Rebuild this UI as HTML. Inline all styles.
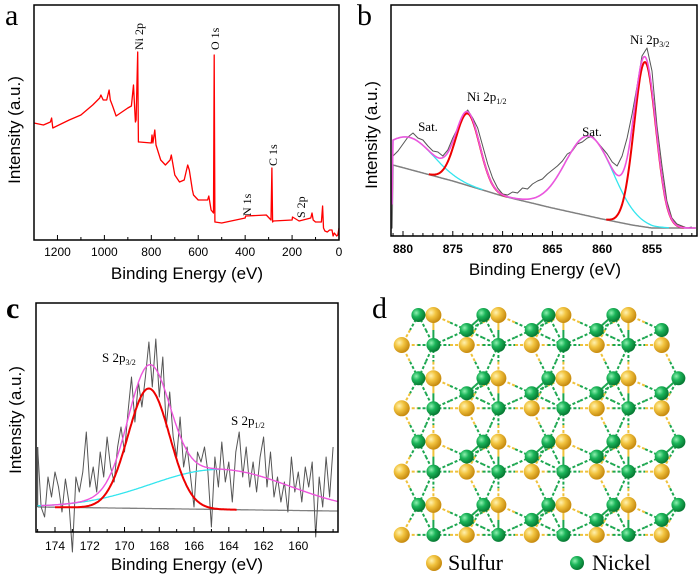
<!DOCTYPE html>
<html><head><meta charset="utf-8"><style>
html,body{margin:0;padding:0;background:#fff;}
svg{display:block;}
.t{font-family:"Liberation Sans",sans-serif;}
.s{font-family:"Liberation Serif",serif;}
</style></head><body>
<svg id="fig" width="700" height="575" viewBox="0 0 700 575" xmlns="http://www.w3.org/2000/svg">
<g id="pa"></g>
<g id="pb"></g>
<g id="pc"></g>
<g id="pd"></g>
</svg>
<script>
// Panel a: survey spectrum [binding energy, intensity]
const aSpectrum=[[1300,117],[1260,115],[1230,118],[1225,122],[1220,112],[1150,120],[1100,125],[1050,135],[1020,142],[1015,145],[1005,140],[990,140],[980,150],[975,140],[965,134],[950,124],[900,132],[885,134],[880,145],[876,155],[872,137],[868,118],[865,120],[858,188],[855,98],[850,98],[800,97],[797,105],[793,97],[785,110],[780,95],[760,80],[740,75],[720,80],[715,85],[700,65],[680,58],[660,60],[645,75],[638,70],[625,50],[620,45],[600,40],[560,40],[555,44],[545,30],[535,27],[532,185],[529,18],[500,17],[400,22],[398,24],[310,25],[290,20],[286,72],[283,18],[280,19],[200,20],[198,23],[170,19],[120,22],[115,27],[110,20],[100,18],[75,18],[70,34],[66,12],[60,9],[50,8],[40,10],[30,10],[25,4],[20,7],[10,4],[5,5],[0,12]];
const aTicks=[1200,1000,800,600,400,200,0];
// Panel b: Ni 2p
const bE=[881,880.5,880,879.5,879,878.5,878,877.5,877,876.5,876,875.5,875,874.5,874,873.5,873,872.5,872,871.5,871,870.5,870,869.5,869,868.5,868,867.5,867,866.5,866,865.5,865,864.5,864,863.5,863,862.5,862,861.5,861,860.5,860,859.5,859,858.5,858,857.5,857,856.5,856,855.5,855,854.5,854,853.5,853,852.5,852,851.5,851];
const bI=[80,85,92,99,103,98,96,90,85,84,80,86,98,108,120,126,118,108,90,72,58,48,42,41,44,43,48,47,52,55,57,62,66,70,75,82,85,92,94,98,100,94,88,82,74,70,80,98,122,150,180,188,165,110,70,35,18,12,10,8,9];
const bBgE=[881,875,870,865,860,857,855,851];
const bBgI=[71,55,40,28,17,11,8,8];
const bRedC=[873.5,855.7], bRedA=[72,165], bRedS=[1.2,1.1];
const bSatC=[879.3,861.3], bSatA=[32,80], bSatS=[2.4,2.4];
const bTicks=[880,875,870,865,860,855];
// Panel c: S 2p
const cE=[];for(let k=0;k<=85;k++)cE.push(+(175-0.2*k).toFixed(1));
const cI=[60,0,-10,30,10,35,20,-5,28,5,-45,30,15,35,75,20,40,15,55,30,70,40,25,60,80,55,95,130,85,125,100,130,165,120,168,110,150,80,115,70,50,90,40,60,30,0,55,45,60,35,-20,50,20,65,25,45,5,55,75,30,60,20,45,15,50,70,20,55,10,30,5,25,-5,50,15,35,5,40,20,45,-30,30,0,50,10,60];
const cBgE=[175,158], cBgI=[0,-4];
const cRedC=[168.6], cRedA=[120], cRedS=[1.2];
const cSatC=[164.5], cSatA=[40], cSatS=[4];
const cTicks=[174,172,170,168,166,164,162,160];

const NS="http://www.w3.org/2000/svg";
function mk(p,tag,at){const e=document.createElementNS(NS,tag);for(const k in at)e.setAttribute(k,at[k]);p.appendChild(e);return e;}
function txt(p,x,y,s,cls,size,anchor,rot){const e=mk(p,'text',{x:x,y:y,'font-size':size,'text-anchor':anchor||'middle',class:cls,fill:'#000'});if(rot)e.setAttribute('transform',`rotate(-90 ${x} ${y})`);e.textContent=s;return e;}
function interp(xs,ys,x){for(let i=0;i<xs.length-1;i++){if((x<=xs[i]&&x>=xs[i+1])||(x>=xs[i]&&x<=xs[i+1])){const t=(x-xs[i])/(xs[i+1]-xs[i]);return ys[i]+t*(ys[i+1]-ys[i]);}}return ys[ys.length-1];}
function g(a,c,s,x){return a*Math.exp(-0.5*((x-c)/s)**2);}
function path(p,pts,col,w,name){const e=mk(p,'path',{d:'M'+pts.map(q=>q[0].toFixed(1)+','+q[1].toFixed(1)).join('L'),fill:'none',stroke:col,'stroke-width':w,'stroke-linejoin':'round'});return e;}
function frame(p,x0,y0,x1,y1){const r=mk(p,'rect',{x:x0,y:y0,width:x1-x0,height:y1-y0,fill:'none',stroke:'#000','stroke-width':1.5});}

// ---- Panel a
(function(){
const p=document.getElementById('pa');
const X=e=>34+(1300-e)/1300*305, Y=v=>240-v;
path(p,aSpectrum.map(d=>[X(d[0]),Y(d[1])]),'#ff0000',1.3,'survey-spectrum');
frame(p,34,5,339,240);
for(let e=1300;e>=0;e-=100){const l=mk(p,'line',{x1:X(e),x2:X(e),y1:240,y2:aTicks.includes(e)?235:237,stroke:'#000','stroke-width':1});}
aTicks.forEach(t=>{const e=txt(p,X(t),256,String(t),'t',12);});
let e=txt(p,187,279,'Binding Energy (eV)','t',17);
e=txt(p,20,130,'Intensity (a.u.)','t',17,'middle',true);
e=txt(p,5,25,'a','s',30,'start');
[['Ni 2p',143,50],['O 1s',219,50],['C 1s',277,166],['N 1s',251,216],['S 2p',305,218]].forEach(q=>{const t=txt(p,q[1],q[2],q[0],'s',12,'start',true);});
})();

// ---- Panel b
(function(){
const p=document.getElementById('pb');
const X=e=>403+(880-e)*9.96, Y=v=>236-v;
const bg=x=>interp(bBgE,bBgI,x);
const grid=[];for(let x=881.2;x>=850.5;x-=0.1)grid.push(x);
path(p,grid.map(x=>[X(x),Y(bg(x))]),'#808080',1.5,'background-line');
bSatC.forEach((c,i)=>{path(p,grid.filter(x=>g(bSatA[i],c,bSatS[i],x)>0.3).map(x=>[X(x),Y(bg(x)+g(bSatA[i],c,bSatS[i],x))]),'#33e5ee',1.3,'satellite-fit');});
path(p,bE.map((x,i)=>[X(x),Y(bI[i])]),'#555',1,'measured-data');
bRedC.forEach((c,i)=>{path(p,grid.filter(x=>g(bRedA[i],c,bRedS[i],x)>0.3).map(x=>[X(x),Y(bg(x)+g(bRedA[i],c,bRedS[i],x))]),'#ee0000',2,'ni-peak-fit');});
path(p,grid.map(x=>{let v=bg(x);bRedC.forEach((c,i)=>v+=g(bRedA[i],c,bRedS[i],x));bSatC.forEach((c,i)=>v+=g(bSatA[i],c,bSatS[i],x));return [X(x),Y(v)];}),'#ee55dd',1.6,'envelope-fit');
frame(p,391,5,697,236);
for(let e=881;e>=851;e-=1){const l=mk(p,'line',{x1:X(e),x2:X(e),y1:236,y2:bTicks.includes(e)?231:233,stroke:'#000','stroke-width':1});}
bTicks.forEach(t=>{const e=txt(p,X(t),253,String(t),'t',12);e.setAttribute('font-weight','bold');});
let e=txt(p,545,275,'Binding Energy (eV)','t',17);
e=txt(p,377,135,'Intensity (a.u.)','t',17,'middle',true);
e=txt(p,357,25,'b','s',30,'start');
e=txt(p,428,131,'Sat.','s',13);
e=txt(p,592,136,'Sat.','s',13);
e=mk(p,'text',{x:467,y:101,'font-size':13,class:'s'});e.innerHTML='Ni 2p<tspan font-size="8" dy="3">1/2</tspan>';
e=mk(p,'text',{x:630,y:44,'font-size':13,class:'s'});e.innerHTML='Ni 2p<tspan font-size="8" dy="3">3/2</tspan>';
})();

// ---- Panel c
(function(){
const p=document.getElementById('pc');
const X=e=>55+(174-e)*17.38, Y=v=>507-v;
const bg=x=>interp(cBgE,cBgI,x);
const grid=[];for(let x=175;x>=157.7;x-=0.05)grid.push(x);
path(p,grid.map(x=>[X(x),Y(bg(x))]),'#808080',1.3,'background-line');
path(p,cE.map((x,i)=>[X(x),Y(cI[i])]),'#555',1,'measured-data');
const l0=mk(p,'line',{x1:X(175),x2:X(175),y1:Y(60),y2:Y(0),stroke:'#555','stroke-width':1.2});
cSatC.forEach((c,i)=>{path(p,grid.filter(x=>x>164.5).map(x=>[X(x),Y(bg(x)+g(cSatA[i],c,cSatS[i],x))]),'#33e5ee',1.3,'s2p12-fit');});
cRedC.forEach((c,i)=>{path(p,grid.filter(x=>x<174&&x>163.5).map(x=>[X(x),Y(bg(x)+g(cRedA[i],c,cRedS[i],x))]),'#ee0000',2,'s2p32-fit');});
path(p,grid.filter(x=>x<174.8).map(x=>{let v=bg(x);cRedC.forEach((c,i)=>v+=g(cRedA[i],c,cRedS[i],x));cSatC.forEach((c,i)=>v+=g(cSatA[i],c,cSatS[i],x));return [X(x),Y(v)];}),'#ee55dd',1.4,'envelope-fit');
frame(p,36,303,338,532);
for(let e=175;e>=158;e-=1){const l=mk(p,'line',{x1:X(e),x2:X(e),y1:532,y2:cTicks.includes(e)?527:529,stroke:'#000','stroke-width':1});}
cTicks.forEach(t=>{const e=txt(p,X(t),550,String(t),'t',12);});
let e=txt(p,187,570,'Binding Energy (eV)','t',17);
e=txt(p,21,420,'Intensity (a.u.)','t',17,'middle',true);
e=txt(p,6,318,'c','s',30,'start');e.setAttribute('font-weight','bold');
e=mk(p,'text',{x:102,y:362,'font-size':13,class:'s'});e.innerHTML='S 2p<tspan font-size="8" dy="3">3/2</tspan>';
e=mk(p,'text',{x:231,y:425,'font-size':13,class:'s'});e.innerHTML='S 2p<tspan font-size="8" dy="3">1/2</tspan>';
})();

// ---- Panel d: NiS lattice
(function(){
const p=document.getElementById('pd');
const defs=mk(p,'defs',{});
defs.innerHTML='<radialGradient id="gs" cx="35%" cy="35%" r="65%"><stop offset="0" stop-color="#fff2b0"/><stop offset="0.45" stop-color="#f2c440"/><stop offset="1" stop-color="#c88c10"/></radialGradient><radialGradient id="gn" cx="35%" cy="35%" r="65%"><stop offset="0" stop-color="#8ff0b0"/><stop offset="0.45" stop-color="#1cb55a"/><stop offset="1" stop-color="#077a33"/></radialGradient>';
const x0=401.7,y0=315,px=65,py=63.3,atoms=[];
for(let j=0;j<4;j++){for(let i=0;i<5;i++){
 if(!(i==4&&j==0))atoms.push(['Ni',x0+16.7+px*i,y0+py*j]);
 if(i<4)atoms.push(['S',x0+31.7+px*i,y0+py*j]);
 if(i>0)atoms.push(['Ni',x0+px*i,y0+15+py*j]);
 atoms.push(['S',x0+px*i,y0+30+py*j]);
 if(i<4)atoms.push(['Ni',x0+31.7+px*i,y0+30+py*j]);
}}
const bonds=mk(p,'g',{});
for(let a=0;a<atoms.length;a++)for(let b=a+1;b<atoms.length;b++){
 const A=atoms[a],B=atoms[b];if(A[0]=='S'&&B[0]=='S')continue;
 const d=Math.hypot(A[1]-B[1],A[2]-B[2]);if(d<12||d>46)continue;
 const mx=(A[1]+B[1])/2,my=(A[2]+B[2])/2;
 const dash=d>30?'3 2':'none';
 mk(bonds,'line',{x1:A[1],y1:A[2],x2:mx,y2:my,stroke:A[0]=='S'?'#efc23a':'#1ca750','stroke-width':2,'stroke-dasharray':dash});
 mk(bonds,'line',{x1:mx,y1:my,x2:B[1],y2:B[2],stroke:B[0]=='S'?'#efc23a':'#1ca750','stroke-width':2,'stroke-dasharray':dash});
}
atoms.forEach(q=>{const c=mk(p,'circle',{cx:q[1],cy:q[2],r:q[0]=='S'?8:7,fill:q[0]=='S'?'url(#gs)':'url(#gn)'});});
let c=mk(p,'circle',{cx:434,cy:563,r:8,fill:'url(#gs)'});
c=mk(p,'circle',{cx:577,cy:563,r:7,fill:'url(#gn)'});
let e=txt(p,448,570,'Sulfur','s',22,'start');
e=txt(p,592,570,'Nickel','s',22,'start');
e=txt(p,372,318,'d','s',30,'start');
})();
</script>
</body></html>
